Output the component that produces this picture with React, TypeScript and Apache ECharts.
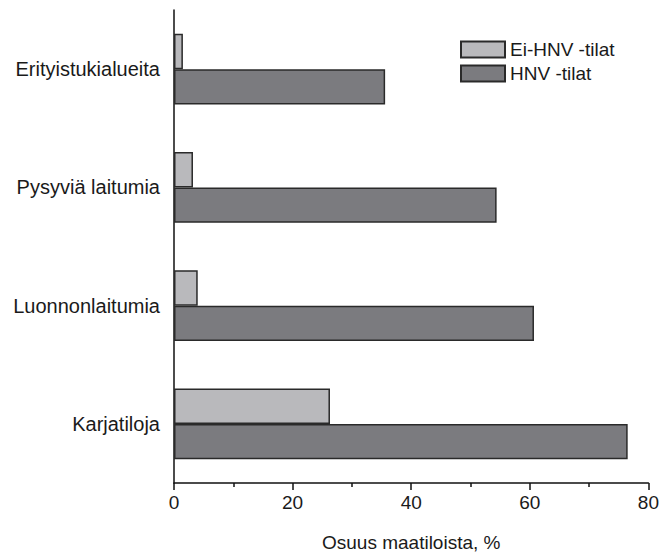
import React, { useEffect, useRef } from "react";
import * as echarts from "echarts";

const categories = ["Erityistukialueita", "Pysyviä laitumia", "Luonnonlaitumia", "Karjatiloja"];
const seriesNames = ["Ei-HNV -tilat", "HNV -tilat"];
const eiHnvValues = [1.5, 3.2, 4.0, 26.3];
const hnvValues = [35.6, 54.4, 60.7, 76.5];
const xTicks = [0, 20, 40, 60, 80];

const FONT = "'Liberation Sans', Arial, sans-serif";

export default function App() {
  const ref = useRef<HTMLDivElement>(null);

  useEffect(() => {
    if (!ref.current) return;
    const chart = echarts.init(ref.current, null, { renderer: "svg" });
    chart.setOption({
      animation: false,
      backgroundColor: "#ffffff",
      textStyle: { fontFamily: FONT },
      grid: { left: 174, right: 13, top: 10, bottom: 63, containLabel: false },
      legend: {
        orient: "vertical",
        left: 460,
        top: 40,
        padding: 0,
        icon: "rect",
        itemWidth: 44,
        itemHeight: 16,
        itemGap: 5,
        textStyle: { fontSize: 19, color: "#1a1a1a", fontFamily: FONT },
        data: seriesNames,
      },
      xAxis: {
        type: "value",
        min: xTicks[0],
        max: xTicks[xTicks.length - 1],
        interval: 20,
        splitLine: { show: false },
        axisLine: { show: true, lineStyle: { color: "#111", width: 1.5 } },
        axisTick: { show: true, inside: false, length: 7, lineStyle: { color: "#111", width: 1.5 } },
        minorTick: { show: true, splitNumber: 2, length: 4, lineStyle: { color: "#111", width: 1.5 } },
        axisLabel: { fontSize: 19, color: "#1a1a1a", margin: 10, fontFamily: FONT },
        name: "Osuus maatiloista, %",
        nameLocation: "middle",
        nameGap: 50,
        nameTextStyle: { fontSize: 19, color: "#1a1a1a", fontFamily: FONT },
      },
      yAxis: {
        type: "category",
        inverse: true,
        data: categories,
        axisLine: { show: true, lineStyle: { color: "#111", width: 1.5 } },
        axisTick: { show: false },
        axisLabel: { fontSize: 20, color: "#1a1a1a", margin: 14, fontFamily: FONT },
      },
      series: [
        {
          name: seriesNames[0],
          type: "bar",
          data: eiHnvValues,
          barGap: "0%",
          barCategoryGap: "40%",
          itemStyle: { color: "#b9b9bc", borderColor: "#2a2a2a", borderWidth: 1.5 },
        },
        {
          name: seriesNames[1],
          type: "bar",
          data: hnvValues,
          barGap: "0%",
          barCategoryGap: "40%",
          itemStyle: { color: "#7b7b7f", borderColor: "#2a2a2a", borderWidth: 1.5 },
        },
      ],
    });
    return () => chart.dispose();
  }, []);

  return (
    <div
      ref={ref}
      style={{ position: "fixed", left: 0, top: 0, width: 662, height: 557, background: "#fff" }}
    />
  );
}
